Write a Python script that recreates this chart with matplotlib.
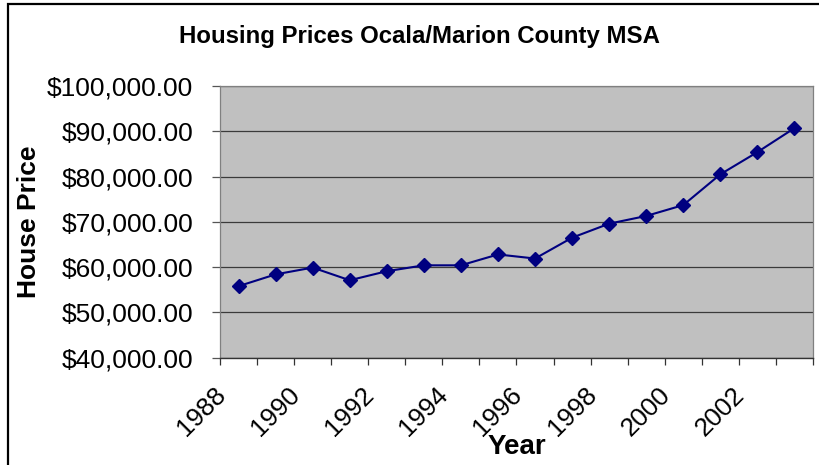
#!/usr/bin/env python3
"""Housing prices for Ocala/Marion County MSA, 1988 - 2003"""

import numpy as np
import matplotlib
matplotlib.use('Agg')
import matplotlib.pyplot as plt
import matplotlib.transforms as mtransforms
from matplotlib.patches import Rectangle
from matplotlib.ticker import FuncFormatter

# Data
years = list(range(1988, 2004))
prices = [55800, 58400, 59900, 57100, 59100, 60400, 60400, 62800,
          61900, 66500, 69600, 71300, 73700, 80500, 85400, 90700]
year_labels = ['1988', '1990', '1992', '1994', '1996', '1998', '2000', '2002']
y_ticks = [40000, 50000, 60000, 70000, 80000, 90000, 100000]

plt.rcParams['font.family'] = ['Liberation Sans', 'DejaVu Sans']

fig = plt.figure(figsize=(8.2, 4.65), dpi=100)
fig.patch.set_facecolor('white')

# black frame round the chart (runs off the right and bottom edges)
fig.patches.append(Rectangle((8 / 820, -0.1), 1.2, 1.1 - 4 / 465,
                             transform=fig.transFigure, fill=False,
                             edgecolor='black', linewidth=1.6))

ax = fig.add_axes([220 / 820, 1 - 357.7 / 465, 593 / 820, 271.7 / 465])
ax.set_facecolor('#C0C0C0')

# category positions (one slot per year)
x = np.arange(len(years)) + 0.5
ax.plot(x, prices, color='#000080', linewidth=1.5, marker='D',
        markersize=7, markerfacecolor='#000080', markeredgecolor='#000080',
        zorder=3)

ax.set_xlim(0, len(years))
ax.set_ylim(40000, 100000)

# grid lines
ax.set_yticks(y_ticks)
ax.yaxis.grid(True, color='#3a3a3a', linewidth=0.9)
ax.set_axisbelow(True)
ax.yaxis.set_major_formatter(FuncFormatter(lambda v, p: '${:,.2f}'.format(v)))
ax.tick_params(axis='y', direction='out', length=5.8, width=0.9,
               color='#555555', pad=13.5, labelsize=19)

# x ticks: marks at slot edges, labels every other year
ax.set_xticks(np.arange(0, len(years) + 1), minor=True)
ax.set_xticks(x[::2])
ax.set_xticklabels(year_labels, rotation=45, ha='center', va='center')
ax.tick_params(axis='x', which='major', length=0, pad=0, labelsize=18.7)
ax.tick_params(axis='x', which='minor', direction='out', length=5,
               width=0.9, color='#333333')
offset = mtransforms.ScaledTranslation(-37 / 100, -53.8 / 100,
                                       fig.dpi_scale_trans)
for lab in ax.get_xticklabels():
    lab.set_transform(lab.get_transform() + offset)

for side in ['top', 'right', 'left']:
    ax.spines[side].set_color('#808080')
    ax.spines[side].set_linewidth(0.9)
ax.spines['bottom'].set_color('#333333')
ax.spines['bottom'].set_linewidth(1.0)

# titles
fig.text(420 / 820, 1 - 36 / 465, 'Housing Prices Ocala/Marion County MSA',
         ha='center', va='center', fontsize=17.3, fontweight='bold')
ax.set_ylabel('House Price', fontsize=19, fontweight='bold')
ax.yaxis.set_label_coords((29 - 220) / 593, 0.5)
ax.yaxis.label.set_va('center')
ax.set_xlabel('Year', fontsize=20, fontweight='bold')
ax.xaxis.set_label_coords(0.5, -(454 - 357.7) / 271.7)
ax.xaxis.label.set_va('baseline')

fig.savefig('out.png', dpi=100)
